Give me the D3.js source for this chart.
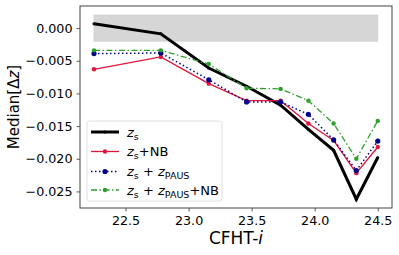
<!DOCTYPE html>
<html>
<head>
<meta charset="utf-8">
<script src="https://cdn.jsdelivr.net/npm/d3@7"></script>
<style>
  body { margin: 0; background: #fff; }
  svg { font-family: "DejaVu Sans", sans-serif; }
</style>
</head>
<body>
<svg width="399" height="255"></svg>
<script>
const mags = [22.25, 22.78, 23.16, 23.46, 23.73, 23.95, 24.15, 24.33, 24.5];
const zs = [0.00066, -0.00087, -0.0061, -0.0089, -0.0118, -0.0155, -0.0187, -0.0262, -0.0198];
const zsNB = [-0.0063, -0.0044, -0.0085, -0.0111, -0.0111, -0.0146, -0.0172, -0.0222, -0.0182];
const zsPaus = [-0.0039, -0.0038, -0.0079, -0.0113, -0.0113, -0.0132, -0.0171, -0.0218, -0.0173];
const zsPausNB = [-0.0034, -0.0034, -0.0055, -0.0092, -0.0093, -0.0111, -0.0146, -0.0200, -0.0142];
const band = { x0: 22.25, x1: 24.5, lo: -0.002, hi: 0.002 };
const xTicks = [22.5, 23.0, 23.5, 24.0, 24.5];
const yTicks = [0, -0.005, -0.01, -0.015, -0.02, -0.025];

const series = [
  { values: zs, color: "#000000", width: 3, dash: null, r: 1.5 },
  { values: zsNB, color: "#e0143c", width: 1.3, dash: null, r: 2.2 },
  { values: zsPaus, color: "#00008b", width: 1.5, dash: "1.5,2.5", r: 2.6 },
  { values: zsPausNB, color: "#2ca02c", width: 1.3, dash: "6,2.5,1.5,2.5", r: 2.2 }
];

const svg = d3.select("svg");
const margin = { top: 6, right: 7, bottom: 47, left: 80 };
const width = 399, height = 255;

const x = d3.scaleLinear().domain([22.139, 24.613]).range([margin.left, width - margin.right]);
const y = d3.scaleLinear().domain([-0.02754, 0.00339]).range([height - margin.bottom, margin.top]);

// shaded tolerance band
svg.append("rect")
  .attr("x", x(band.x0))
  .attr("y", y(band.hi))
  .attr("width", x(band.x1) - x(band.x0))
  .attr("height", y(band.lo) - y(band.hi))
  .attr("fill", "#d6d6d6")
  .attr("stroke", "#cfcfcf")
  .attr("stroke-width", 0.8);

const line = d3.line()
  .x((d, i) => x(mags[i]))
  .y(d => y(d));

series.forEach(s => {
  svg.append("path")
    .datum(s.values)
    .attr("fill", "none")
    .attr("stroke", s.color)
    .attr("stroke-width", s.width)
    .attr("stroke-dasharray", s.dash)
    .attr("stroke-linejoin", "miter")
    .attr("d", line);
  svg.append("g")
    .selectAll("circle")
    .data(s.values)
    .join("circle")
    .attr("cx", (d, i) => x(mags[i]))
    .attr("cy", d => y(d))
    .attr("r", s.r)
    .attr("fill", s.color);
});

// axes
const xAxis = svg.append("g")
  .attr("transform", `translate(0,${height - margin.bottom})`)
  .call(d3.axisBottom(x).tickValues(xTicks).tickFormat(d3.format(".1f")).tickSizeOuter(0).tickSize(3.5).tickPadding(4));
const yAxis = svg.append("g")
  .attr("transform", `translate(${margin.left},0)`)
  .call(d3.axisLeft(y).tickValues(yTicks).tickFormat(d3.format(".3f")).tickSizeOuter(0).tickSize(3.5).tickPadding(4));

[xAxis, yAxis].forEach(a => {
  a.select(".domain").remove();
  a.selectAll("line").attr("stroke", "#333").attr("stroke-width", 0.8);
  a.selectAll("text").attr("font-size", 12.7).attr("fill", "#000")
    .attr("font-family", "DejaVu Sans");
});

// frame
svg.append("rect")
  .attr("x", margin.left)
  .attr("y", margin.top)
  .attr("width", width - margin.left - margin.right)
  .attr("height", height - margin.top - margin.bottom)
  .attr("fill", "none")
  .attr("stroke", "#444")
  .attr("stroke-width", 1);

// axis labels
const xl = svg.append("text")
  .attr("x", (margin.left + width - margin.right) / 2)
  .attr("y", 244)
  .attr("text-anchor", "middle")
  .attr("font-size", 17);
xl.append("tspan").text("CFHT-");
xl.append("tspan").attr("font-style", "italic").text("i");

const yl = svg.append("text")
  .attr("transform", `translate(19,${(margin.top + height - margin.bottom) / 2}) rotate(-90)`)
  .attr("text-anchor", "middle")
  .attr("font-size", 15);
yl.append("tspan").text("Median[Δ");
yl.append("tspan").attr("font-style", "italic").text("z");
yl.append("tspan").text("]");

// legend
const lg = svg.append("g").attr("transform", "translate(87,121)");
lg.append("rect")
  .attr("width", 135)
  .attr("height", 80)
  .attr("rx", 2.5)
  .attr("fill", "#fff")
  .attr("fill-opacity", 0.85)
  .attr("stroke", "#d8d8d8")
  .attr("stroke-width", 0.8);

const labels = [
  [["z", "i", 0], ["s", "n", 1]],
  [["z", "i", 0], ["s", "n", 1], ["+NB", "n", 0]],
  [["z", "i", 0], ["s", "n", 1], [" + ", "n", 0], ["z", "i", 0], ["PAUS", "n", 1]],
  [["z", "i", 0], ["s", "n", 1], [" + ", "n", 0], ["z", "i", 0], ["PAUS", "n", 1], ["+NB", "n", 0]]
];
const rowY = [11, 30.5, 50.5, 69];

series.forEach((s, i) => {
  const row = lg.append("g").attr("transform", `translate(0,${rowY[i]})`);
  row.append("line")
    .attr("x1", 4).attr("x2", 32)
    .attr("stroke", s.color)
    .attr("stroke-width", s.width)
    .attr("stroke-dasharray", s.dash);
  row.append("circle").attr("cx", 18).attr("r", s.r).attr("fill", s.color);
  const t = row.append("text").attr("x", 40).attr("y", 4.5).attr("font-size", 13);
  let prevSub = 0;
  labels[i].forEach(([txt, style, sub]) => {
    const ts = t.append("tspan").text(txt);
    if (style === "i") ts.attr("font-style", "italic");
    if (sub) ts.attr("font-size", 9.5);
    const shift = (sub ? 3 : 0) - prevSub;
    if (shift) ts.attr("dy", shift);
    prevSub = sub ? 3 : 0;
  });
});
</script>
</body>
</html>
